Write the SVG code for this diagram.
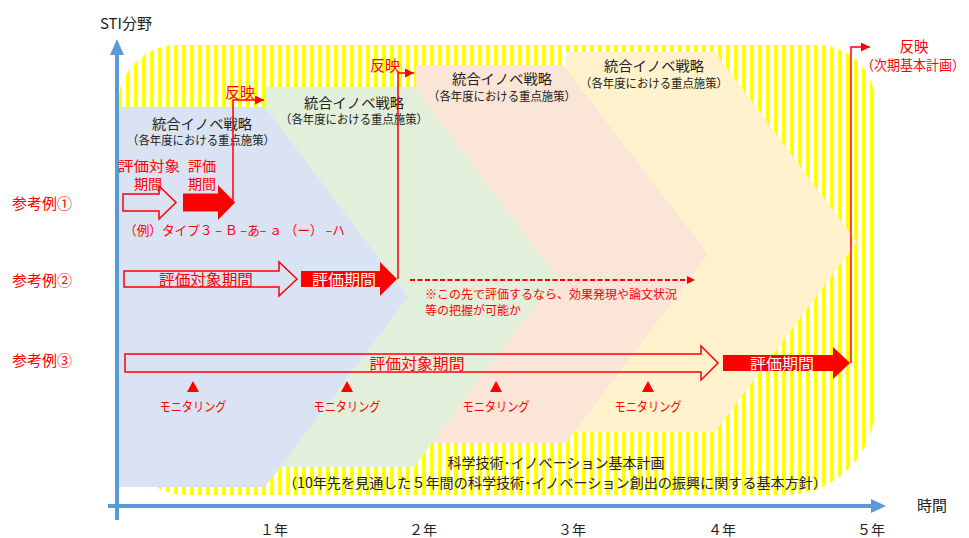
<svg xmlns="http://www.w3.org/2000/svg" width="969" height="538" viewBox="0 0 969 538">
<style>
text{font-family:"Noto Sans CJK JP","Noto Sans",sans-serif;}
.k{fill:#222222;}
.r{fill:#FF0000;}
.w{fill:#FFFFFF;}
.t14{font-size:14px;}
.t12{font-size:12px;}
.t15{font-size:15px;}
.t13{font-size:13px;}
.mid{text-anchor:middle;}
.hollow{fill:none;stroke:#FF0000;stroke-width:1.5;}
.solid{fill:#FF0000;}
.conn{fill:none;stroke:#FF0000;stroke-width:1.5;}
.axis{stroke:#5B9BD5;stroke-width:4;fill:none;}
</style>
<defs>
<pattern id="stripes" x="6" y="0" width="8" height="10" patternUnits="userSpaceOnUse"><rect x="0" y="0" width="4" height="10" fill="#FFFF00"/></pattern>
<marker id="ah" viewBox="0 0 10 10" refX="10" refY="5" markerWidth="9" markerHeight="9" markerUnits="userSpaceOnUse" orient="auto"><path d="M0,0 L10,5 L0,10 Z" fill="#FF0000"/></marker>
<marker id="ahs" viewBox="0 0 10 10" refX="10" refY="5" markerWidth="8" markerHeight="8" markerUnits="userSpaceOnUse" orient="auto"><path d="M0,0 L10,5 L0,10 Z" fill="#FF0000"/></marker>
</defs>
<rect width="969" height="538" fill="#FFFFFF"/>

<g id="basic-plan">
<path d="M118,105 A60,60 0 0 1 178,45 L817,45 A58,58 0 0 1 875,103 L875,405 A90,90 0 0 1 785,495 L188,495 A70,70 0 0 1 118,425 Z" fill="url(#stripes)"/>
<text class="k t14 mid" x="556" y="468" textLength="217" lengthAdjust="spacingAndGlyphs">科学技術･イノベーション基本計画</text>
<text class="k t14 mid" x="555" y="488" textLength="544" lengthAdjust="spacingAndGlyphs">（10年先を見通した５年間の科学技術･イノベーション創出の振興に関する基本方針）</text>
</g>

<g id="strategy-4">
<polygon points="566,52 715,52 857,242 715,432 566,432" fill="#FFF2CC"/>
<text class="k t14 mid" x="654" y="71" textLength="100" lengthAdjust="spacingAndGlyphs">統合イノベ戦略</text>
<text class="k t12 mid" x="654" y="88" textLength="148" lengthAdjust="spacingAndGlyphs">（各年度における重点施策）</text>
</g>
<g id="strategy-3">
<polygon points="416,65 563,65 708,254 566,443 416,443" fill="#FBE5D6"/>
<text class="k t14 mid" x="502" y="84" textLength="100" lengthAdjust="spacingAndGlyphs">統合イノベ戦略</text>
<text class="k t12 mid" x="502" y="101" textLength="148" lengthAdjust="spacingAndGlyphs">（各年度における重点施策）</text>
</g>
<g id="strategy-2">
<polygon points="265,87 414,87 557,277 414,467 265,467" fill="#E2EFDA"/>
<text class="k t14 mid" x="354" y="108" textLength="100" lengthAdjust="spacingAndGlyphs">統合イノベ戦略</text>
<text class="k t12 mid" x="354" y="124" textLength="148" lengthAdjust="spacingAndGlyphs">（各年度における重点施策）</text>
</g>
<g id="strategy-1">
<polygon points="118,107 265,107 408,297 265,487 118,487" fill="#DAE3F3"/>
<text class="k t14 mid" x="202" y="129" textLength="100" lengthAdjust="spacingAndGlyphs">統合イノベ戦略</text>
<text class="k t12 mid" x="201" y="145" textLength="148" lengthAdjust="spacingAndGlyphs">（各年度における重点施策）</text>
</g>

<g id="axes">
<line class="axis" x1="117" y1="520" x2="117" y2="52"/>
<polygon points="110,55 124,55 117,39" fill="#5B9BD5"/>
<line class="axis" x1="108" y1="506" x2="873" y2="506"/>
<polygon points="871,499 871,513 886,506" fill="#5B9BD5"/>
<text class="k t15" x="152" y="29" text-anchor="end">STI分野</text>
<text class="k t15" x="917" y="511">時間</text>
<text class="k t14 mid" x="274" y="535">１年</text>
<text class="k t14 mid" x="423" y="535">２年</text>
<text class="k t14 mid" x="572" y="535">３年</text>
<text class="k t14 mid" x="722" y="535">４年</text>
<text class="k t14 mid" x="871" y="535">５年</text>
</g>

<g id="connectors">
<polyline class="conn" points="233,202 233,100 264,100" marker-end="url(#ah)"/>
<polyline class="conn" points="398,279 398,73 414,73" marker-end="url(#ah)"/>
<polyline class="conn" points="851,363 851,47 870,47" marker-end="url(#ah)"/>
<line x1="410" y1="280" x2="695" y2="280" stroke="#FF0000" stroke-width="2" stroke-dasharray="5 2.5" marker-end="url(#ahs)"/>
</g>

<g id="reflect-labels">
<text class="r t15 mid" x="240" y="98">反映</text>
<text class="r t15 mid" x="385" y="71">反映</text>
<text class="r mid" x="914" y="52" font-size="14.5">反映</text>
<text class="r mid" x="913" y="70" font-size="13.5" textLength="104" lengthAdjust="spacingAndGlyphs">（次期基本計画）</text>
</g>

<g id="example-1">
<text class="r t15" x="12" y="209">参考例①</text>
<path class="hollow" d="M123,194 L159,194 L159,186 L176,202.5 L159,219 L159,211 L123,211 Z"/>
<path class="solid" d="M183,193.5 L218,193.5 L218,185 L235,202.5 L218,220 L218,211.5 L183,211.5 Z"/>
<text class="r t14 mid" x="149" y="171" textLength="62" lengthAdjust="spacingAndGlyphs">評価対象</text>
<text class="r t14 mid" x="148" y="188.5">期間</text>
<text class="r t14 mid" x="202" y="171">評価</text>
<text class="r t14 mid" x="202" y="188.5">期間</text>
<text class="r t13" x="124" y="235" textLength="221" lengthAdjust="spacingAndGlyphs">（例）タイプ３ – Ｂ –あ– ａ （ー） –ハ</text>
</g>

<g id="example-2">
<text class="r t15" x="12" y="286">参考例②</text>
<path class="hollow" d="M124,271 L279,271 L279,262 L297,279 L279,296 L279,287 L124,287 Z"/>
<text class="r t15 mid" x="206" y="285" textLength="94" lengthAdjust="spacingAndGlyphs">評価対象期間</text>
<path class="solid" d="M301,271 L380,271 L380,262 L397,279 L380,296 L380,287 L301,287 Z"/>
<text class="w t15 mid" x="344" y="285" textLength="64" lengthAdjust="spacingAndGlyphs">評価期間</text>
<text class="r t12" x="425" y="299" textLength="252" lengthAdjust="spacingAndGlyphs">※この先で評価するなら、効果発現や論文状況</text>
<text class="r t12" x="425" y="315">等の把握が可能か</text>
</g>

<g id="example-3">
<text class="r t15" x="12" y="366">参考例③</text>
<path class="hollow" d="M125,354 L701,354 L701,346 L718,363 L701,380 L701,372 L125,372 Z"/>
<text class="r t15 mid" x="417" y="369" textLength="95" lengthAdjust="spacingAndGlyphs">評価対象期間</text>
<path class="solid" d="M723,355 L833,355 L833,347 L850,363 L833,379 L833,371 L723,371 Z"/>
<text class="w t15 mid" x="782" y="369" textLength="64" lengthAdjust="spacingAndGlyphs">評価期間</text>
</g>

<g id="monitoring">
<polygon class="solid" points="187,392 199,392 193,381"/>
<polygon class="solid" points="341,392 353,392 347,381"/>
<polygon class="solid" points="490,392 502,392 496,381"/>
<polygon class="solid" points="642,392 654,392 648,381"/>
<text class="r t13 mid" x="193" y="411" textLength="67" lengthAdjust="spacingAndGlyphs">モニタリング</text>
<text class="r t13 mid" x="347" y="411" textLength="67" lengthAdjust="spacingAndGlyphs">モニタリング</text>
<text class="r t13 mid" x="496" y="411" textLength="67" lengthAdjust="spacingAndGlyphs">モニタリング</text>
<text class="r t13 mid" x="648" y="411" textLength="67" lengthAdjust="spacingAndGlyphs">モニタリング</text>
</g>
</svg>
